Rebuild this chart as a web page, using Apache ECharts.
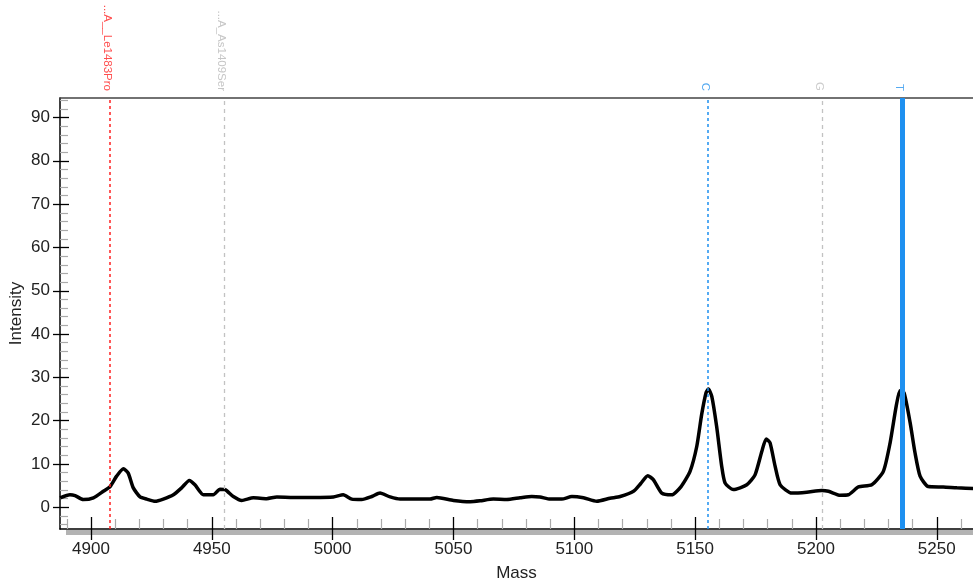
<!DOCTYPE html>
<html><head><meta charset="utf-8">
<script src="https://cdn.jsdelivr.net/npm/echarts@6/dist/echarts.min.js"></script>
<style>html,body{margin:0;padding:0;background:#fff}#c{width:973px;height:582px}</style>
</head><body><div id="c"></div>
<script>
const massValues = [4887.2,4891.3,4893.4,4896.8,4901,4905.1,4907.9,4910.6,4913.4,4915.4,4917.5,4920.3,4923.1,4926.5,4929.9,4934.1,4937.5,4940.7,4943,4946.5,4950.6,4953.4,4955.5,4958.9,4962.4,4967.2,4972.7,4976.9,4983.7,4992,5000.3,5004.4,5007.9,5012,5016.2,5019.6,5023.8,5027.9,5033.4,5040.3,5043.1,5050,5056.9,5061,5066.5,5072,5077.6,5082.4,5085.8,5090,5094.8,5099,5103.8,5109.3,5114.8,5119,5124.5,5127.5,5130.4,5132.7,5136.2,5140.3,5144.2,5147.9,5150.7,5152.7,5154.5,5155.5,5156.9,5158.9,5161,5162.4,5165.8,5171.4,5174.8,5177.6,5179.4,5181,5183.1,5185.2,5190,5196.2,5202.4,5205.2,5210,5213.4,5217.6,5223.1,5227.9,5230.7,5233.2,5234.8,5236.5,5239,5241,5243.1,5246.5,5252.7,5258.3,5266];
const intensityValues = [2.2,2.9,2.7,1.8,2.2,3.7,4.8,7.2,8.9,7.9,4.5,2.4,1.9,1.4,1.9,2.9,4.5,6.2,5.2,2.9,2.9,4.2,4.1,2.5,1.6,2.2,2.0,2.4,2.3,2.3,2.4,2.9,1.9,1.8,2.5,3.3,2.4,1.9,1.9,1.9,2.3,1.6,1.3,1.5,1.9,1.8,2.2,2.5,2.4,1.9,1.9,2.5,2.2,1.4,2.1,2.5,3.7,5.5,7.3,6.4,3.3,2.9,4.8,8.3,14.1,21.4,26.4,27.3,25.6,18.7,9.5,5.6,4.1,5.2,7.5,12.9,15.8,14.9,9.5,5.2,3.3,3.5,3.9,3.7,2.8,2.9,4.7,5.2,8.3,14.9,23.3,27.0,26.4,19.5,12.6,7.2,4.8,4.7,4.5,4.3];
const xTickLabels = [4900,4950,5000,5050,5100,5150,5200,5250];
const yTickLabels = [0,10,20,30,40,50,60,70,80,90];
const markerMasses = [4907.9, 4955.0, 5155.4, 5202.6, 5235.7];
const markerLabels = ['...A__Le1483Pro', '...A_As1409Ser', 'C', 'G', 'T'];

const markerStyles = [
  {color:'#ff2020', width:1.5, type:[3,3]},
  {color:'#c2c2c2', width:1.3, type:[4,4]},
  {color:'#1e90f0', width:1.5, type:[3,3]},
  {color:'#c2c2c2', width:1.3, type:[4,4]},
  {color:'#1e90f0', width:5, type:'solid'}
];
const markerTextColors = ['#ff2020','#b8b8b8','#2a95ee','#c0c0c0','#2a95ee'];

const xMin = 4887.17, xMax = 5265.0, yMin = -5, yMax = 94.5;
const xMinor = [];
for (let v = 4890; v <= 5260; v += 10) if (v % 50 !== 0) xMinor.push(v);
const yMinor = [];
for (let v = -4; v <= 94; v += 2) if (v % 10 !== 0) yMinor.push(v);

const FONT = 'Liberation Sans, Arial, sans-serif';
const chart = echarts.init(document.getElementById('c'));
const fmt = v => String(v);
const baseLine = {show:false, onZero:false};
chart.setOption({
  animation: false,
  backgroundColor: '#fff',
  textStyle: {fontFamily: FONT},
  grid: [
    {left: 60, top: 98, right: 0, bottom: 53, containLabel:false, outerBoundsMode:'none'},
    {left: 60, top: 0, right: 0, height: 91, containLabel:false, outerBoundsMode:'none'}
  ],
  graphic: [{type:'rect', z:-5, shape:{x:66, y:530, width:910, height:5}, style:{fill:'#b3b3b3'}}],
  xAxis: [
    {gridIndex:0, type:'value', min:xMin, max:xMax, position:'bottom',
     axisLine:{show:true, onZero:false, lineStyle:{color:'#000', width:1.5}},
     axisTick:{show:true, inside:false, length:11, customValues:xTickLabels, lineStyle:{color:'#000', width:1.3}},
     axisLabel:{show:true, customValues:xTickLabels, formatter:fmt, fontSize:17, color:'#222', margin:12, fontFamily:FONT},
     splitLine:{show:false},
     name:'Mass', nameLocation:'middle', nameGap:36, nameTextStyle:{fontSize:17, color:'#222', fontFamily:FONT}},
    {gridIndex:0, type:'value', min:xMin, max:xMax, position:'bottom',
     axisLine:baseLine,
     axisTick:{show:true, inside:true, length:10, customValues:xMinor, lineStyle:{color:'#aaa', width:1.2}},
     axisLabel:{show:false}, splitLine:{show:false}},
    {gridIndex:0, type:'value', min:xMin, max:xMax, position:'bottom',
     axisLine:baseLine,
     axisTick:{show:true, inside:true, length:12, customValues:xTickLabels, lineStyle:{color:'#000', width:1.3}},
     axisLabel:{show:false}, splitLine:{show:false}},
    {gridIndex:0, type:'value', min:xMin, max:xMax, position:'top',
     axisLine:{show:true, onZero:false, lineStyle:{color:'#444', width:1.5}},
     axisTick:{show:false}, axisLabel:{show:false}, splitLine:{show:false}},
    {gridIndex:1, type:'value', min:xMin, max:xMax, show:false}
  ],
  yAxis: [
    {gridIndex:0, type:'value', min:yMin, max:yMax, position:'left',
     axisLine:{show:true, onZero:false, lineStyle:{color:'#000', width:1.5}},
     axisTick:{show:true, inside:false, length:7, customValues:yTickLabels, lineStyle:{color:'#000', width:1.3}},
     axisLabel:{show:true, customValues:yTickLabels, formatter:fmt, fontSize:17, color:'#222', margin:10, fontFamily:FONT},
     splitLine:{show:false},
     name:'Intensity', nameLocation:'middle', nameGap:35, nameMoveOverlap:false,
     nameTextStyle:{fontSize:17, color:'#222', fontFamily:FONT}},
    {gridIndex:0, type:'value', min:yMin, max:yMax, position:'left',
     axisLine:baseLine,
     axisTick:{show:true, inside:true, length:8, customValues:yMinor, lineStyle:{color:'#aaa', width:1.2}},
     axisLabel:{show:false}, splitLine:{show:false}},
    {gridIndex:0, type:'value', min:yMin, max:yMax, position:'left',
     axisLine:baseLine,
     axisTick:{show:true, inside:true, length:9, customValues:yTickLabels, lineStyle:{color:'#000', width:1.3}},
     axisLabel:{show:false}, splitLine:{show:false}},
    {gridIndex:1, type:'value', min:0, max:1, show:false}
  ],
  series: [
    {type:'line', xAxisIndex:0, yAxisIndex:0, data: massValues.map((m,i)=>[m, intensityValues[i]]),
     showSymbol:false, symbol:'none', smooth:0.2, clip:true,
     lineStyle:{color:'#000', width:3.5}, z:3},
    {type:'line', xAxisIndex:0, yAxisIndex:0, data:[], z:10,
     markLine:{silent:true, symbol:['none','none'], animation:false, label:{show:false},
       data: markerMasses.map((m,i)=>({xAxis:m, lineStyle:markerStyles[i]}))}},
    {type:'scatter', xAxisIndex:4, yAxisIndex:3, symbolSize:0, silent:true,
     data: markerMasses.map((m,i)=>({value:[m,0], label:{color:markerTextColors[i]}})),
     label:{show:true, position:'inside', rotate:-90, align:'right', verticalAlign:'middle',
       fontSize:11.5, fontFamily:FONT, offset:[0,3],
       formatter: p => markerLabels[p.dataIndex]}}
  ]
});
</script>
</body></html>
